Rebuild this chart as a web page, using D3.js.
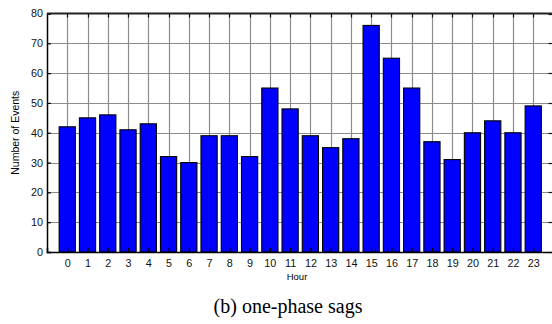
<!DOCTYPE html>
<html><head><meta charset="utf-8">
<script src="https://cdn.jsdelivr.net/npm/d3@7"></script>
<style>body{margin:0;background:#fff}svg{display:block}</style>
</head><body>
<svg id="c" width="552" height="324"></svg>
<script>
const hours = d3.range(0,24);
const events = [42,45,46,41,43,32,30,39,39,32,55,48,39,35,38,76,65,55,37,31,40,44,40,49];
const yTicks = [0,10,20,30,40,50,60,70,80];
const xLabel = "Hour", yLabel = "Number of Events", caption = "(b) one-phase sags";

const svg = d3.select("#c");
const L = 47, R = 553.5, T = 13.5, B = 252;
const x = d3.scaleLinear().domain([-1,24]).range([L,R]);
const y = d3.scaleLinear().domain([0,80]).range([B,T]);
const bw = (x(1)-x(0))*0.8;
const px = v => Math.round(v)+0.5;

// grid
const grid = svg.append("g").attr("class","grid");
grid.selectAll("line.gx").data(hours).join("line").attr("class","gx")
  .attr("x1",d=>px(x(d))).attr("x2",d=>px(x(d))).attr("y1",T).attr("y2",B)
  .attr("stroke","#8c8c8c").attr("stroke-width",1.2);
grid.selectAll("line.gy").data(yTicks.slice(1,-1)).join("line").attr("class","gy")
  .attr("x1",L).attr("x2",R).attr("y1",d=>px(y(d))).attr("y2",d=>px(y(d)))
  .attr("stroke","#8c8c8c").attr("stroke-width",1.2);

// bars
svg.append("g").selectAll("rect").data(events).join("rect")
  .attr("x",(d,i)=>x(hours[i])-bw/2).attr("width",bw)
  .attr("y",d=>y(d)).attr("height",d=>B-y(d))
  .attr("fill","#0000ff").attr("stroke","#000").attr("stroke-width",1.1);

// top ticks
svg.append("g").selectAll("line.tt").data(hours).join("line").attr("class","tt")
  .attr("x1",d=>px(x(d))).attr("x2",d=>px(x(d))).attr("y1",T).attr("y2",T+4)
  .attr("stroke","#111").attr("stroke-width",1.2);
// right ticks
svg.append("g").selectAll("line.rt").data(yTicks).join("line").attr("class","rt")
  .attr("x1",R-5).attr("x2",R).attr("y1",d=>px(y(d))).attr("y2",d=>px(y(d)))
  .attr("stroke","#111").attr("stroke-width",1.2);

// axes
const font = "Liberation Sans, Arial, sans-serif";
const xa = svg.append("g").attr("transform",`translate(0,${B})`)
  .call(d3.axisBottom(x).tickValues(hours).tickSize(-4).tickPadding(7).tickFormat(d3.format("d")));
const ya = svg.append("g").attr("transform",`translate(${L},0)`)
  .call(d3.axisLeft(y).tickValues(yTicks).tickSize(-4).tickPadding(4));
[xa,ya].forEach(a=>{
  a.select(".domain").attr("stroke","#000").attr("stroke-width",1.5);
  a.selectAll(".tick line").attr("stroke","#000").attr("stroke-width",1.2);
  a.selectAll("text").attr("font-family",font).attr("font-size",10.8).attr("fill","#111");
});
svg.append("line").attr("x1",L).attr("x2",R).attr("y1",T).attr("y2",T).attr("stroke","#222").attr("stroke-width",2);

svg.append("text").attr("x",297).attr("y",280).attr("text-anchor","middle")
  .attr("font-family",font).attr("font-size",9.5).text(xLabel);
svg.append("text").attr("transform",`translate(19,${(T+B)/2}) rotate(-90)`).attr("text-anchor","middle")
  .attr("font-family",font).attr("font-size",10.5).text(yLabel);
svg.append("text").attr("x",288).attr("y",313).attr("text-anchor","middle")
  .attr("font-family","Liberation Serif, Times New Roman, serif").attr("font-size",20).text(caption);
</script>
</body></html>
